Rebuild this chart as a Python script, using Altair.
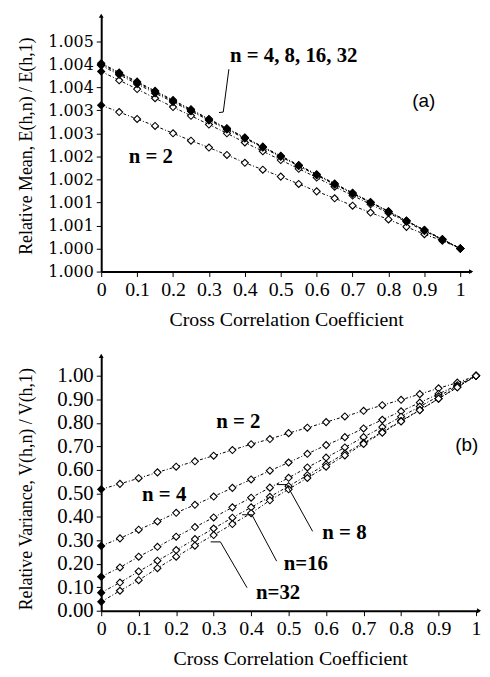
import altair as alt
import pandas as pd

# ---------------- data ----------------
rho = [0.0, 0.05, 0.1, 0.15, 0.2, 0.25, 0.3, 0.35, 0.4, 0.45, 0.5,
       0.55, 0.6, 0.65, 0.7, 0.75, 0.8, 0.85, 0.9, 0.95, 1.0]

# (a) relative mean E(h,n)/E(h,1)
mean_n2 = [1.00361, 1.00346, 1.00331, 1.00316, 1.00300, 1.00284, 1.00269, 1.00253, 1.00236, 1.00221, 1.00206,
           1.00190, 1.00174, 1.00159, 1.00143, 1.00128, 1.00113, 1.00097, 1.00081, 1.00067, 1.00050]
mean_n4 = [1.00434, 1.00415, 1.00396, 1.00376, 1.00357, 1.00338, 1.00319, 1.00300, 1.00280, 1.00261, 1.00242,
           1.00223, 1.00204, 1.00184, 1.00165, 1.00146, 1.00127, 1.00108, 1.00088, 1.00069, 1.00050]
mean_n8 = [1.00447, 1.00427, 1.00407, 1.00387, 1.00368, 1.00348, 1.00328, 1.00308, 1.00289, 1.00269, 1.00249,
           1.00229, 1.00209, 1.00189, 1.00169, 1.00150, 1.00130, 1.00110, 1.00090, 1.00070, 1.00050]
mean_n16 = [1.00450, 1.00430, 1.00410, 1.00390, 1.00370, 1.00350, 1.00330, 1.00310, 1.00290, 1.00270, 1.00250,
            1.00230, 1.00210, 1.00190, 1.00170, 1.00150, 1.00130, 1.00110, 1.00090, 1.00070, 1.00050]
mean_n32 = [1.00452, 1.00432, 1.00412, 1.00392, 1.00372, 1.00352, 1.00331, 1.00311, 1.00291, 1.00271, 1.00251,
            1.00231, 1.00211, 1.00191, 1.00171, 1.00151, 1.00131, 1.00110, 1.00090, 1.00070, 1.00050]

# (b) relative variance V(h,n)/V(h,1)
var_n2 = [0.517, 0.540, 0.564, 0.589, 0.613, 0.636, 0.660, 0.684, 0.709, 0.731, 0.756,
          0.779, 0.803, 0.827, 0.851, 0.875, 0.898, 0.922, 0.947, 0.971, 1.000]
var_n4 = [0.276, 0.308, 0.345, 0.380, 0.417, 0.451, 0.486, 0.523, 0.559, 0.596, 0.631,
          0.668, 0.705, 0.739, 0.776, 0.813, 0.849, 0.886, 0.923, 0.960, 1.000]
var_n8 = [0.145, 0.184, 0.230, 0.272, 0.315, 0.356, 0.397, 0.440, 0.481, 0.524, 0.566,
          0.610, 0.652, 0.695, 0.739, 0.782, 0.826, 0.869, 0.913, 0.956, 1.000]
var_n16 = [0.077, 0.120, 0.167, 0.213, 0.258, 0.305, 0.350, 0.396, 0.440, 0.485, 0.530,
           0.577, 0.623, 0.669, 0.715, 0.762, 0.808, 0.855, 0.902, 0.951, 1.000]
var_n32 = [0.038, 0.085, 0.130, 0.181, 0.230, 0.277, 0.322, 0.369, 0.415, 0.470, 0.517,
           0.565, 0.613, 0.661, 0.710, 0.758, 0.806, 0.854, 0.903, 0.951, 1.000]

series_names = ["n=2", "n=4", "n=8", "n=16", "n=32"]

x_ticks = [0.0, 0.1, 0.2, 0.3, 0.4, 0.5, 0.6, 0.7, 0.8, 0.9, 1.0]
mean_ticks = [1.0, 1.0005, 1.001, 1.0015, 1.002, 1.0025, 1.003, 1.0035, 1.004, 1.0045, 1.005]
mean_tick_labels = ["1.000", "1.000", "1.001", "1.001", "1.002", "1.002",
                    "1.003", "1.003", "1.004", "1.004", "1.005"]
var_ticks = [0.0, 0.1, 0.2, 0.3, 0.4, 0.5, 0.6, 0.7, 0.8, 0.9, 1.0]

# annotation texts (position in data units)
ann_a_text = ["n = 4, 8, 16, 32", "n = 2"]
ann_a_x = [0.536, 0.138]
ann_a_y = [1.00468, 1.00248]
ann_b_text = ["n = 2", "n = 4", "n = 8", "n=16", "n=32"]
ann_b_x = [0.366, 0.168, 0.649, 0.546, 0.472]
ann_b_y = [0.803, 0.494, 0.330, 0.199, 0.076]

# leader lines: x, y, x2, y2
lead_a = [[0.3555, 1.00439, 0.3398, 1.00346], [0.3398, 1.00346, 0.328, 1.00345]]
lead_b = [[0.469, 0.537, 0.495, 0.537], [0.495, 0.537, 0.564, 0.338],
          [0.376, 0.4085, 0.402, 0.4085], [0.402, 0.4085, 0.468, 0.211],
          [0.292, 0.293, 0.318, 0.293], [0.318, 0.293, 0.389, 0.098]]

# ---------------- build tables ----------------
def long_table(lists):
    rows = []
    for name, vals in zip(series_names, lists):
        for r, v in zip(rho, vals):
            rows.append({"rho": r, "v": v, "n": name})
    return pd.DataFrame(rows)

mean_df = long_table([mean_n2, mean_n4, mean_n8, mean_n16, mean_n32])
var_df = long_table([var_n2, var_n4, var_n8, var_n16, var_n32])

SERIF = "Liberation Serif"
SANS = "Liberation Sans"


def panel(df, xdom, ydom, w, h, yaxis, ytitle, texts, tx, ty, leads, tag, tag_x, tag_y, fill_test):
    xs = alt.Scale(domain=xdom, nice=False, zero=False)
    ys = alt.Scale(domain=ydom, nice=False, zero=False)
    xaxis = alt.Axis(values=x_ticks, format=".1~f", title="Cross Correlation Coefficient",
                     grid=False, domainColor="black", domainWidth=2, tickColor="black",
                     tickSize=5, tickWidth=1, labelFont=SERIF, labelFontSize=20,
                     labelColor="black", labelPadding=3, labelFlush=False, labelOverlap=False,
                     titleFont=SERIF, titleFontSize=20, titleFontWeight="normal",
                     titleColor="black", titlePadding=10)

    def X(field):
        return alt.X(field, scale=xs, axis=xaxis, title="Cross Correlation Coefficient")

    def Y(field):
        return alt.Y(field, scale=ys, axis=yaxis, title=ytitle)

    base = alt.Chart(df)
    lines = base.mark_line(color="black", strokeWidth=1, strokeDash=[3, 2, 1, 2]).encode(
        x=X("rho:Q"), y=Y("v:Q"), detail="n:N",
    )
    pts = base.mark_point(shape="diamond", size=50, stroke="black", strokeWidth=1.1,
                          filled=False, opacity=1).encode(
        x=X("rho:Q"), y=Y("v:Q"),
        fill=alt.condition(fill_test, alt.value("black"), alt.value("white")),
        detail="n:N",
    )
    tdf = pd.DataFrame({"t": texts, "x": tx, "y": ty})
    txt = alt.Chart(tdf).mark_text(font=SERIF, fontSize=21, fontWeight="bold",
                                   color="black", baseline="middle", align="center").encode(
        x=X("x:Q"), y=Y("y:Q"), text="t:N")
    ldf = pd.DataFrame(leads, columns=["x", "y", "x2", "y2"])
    rules = alt.Chart(ldf).mark_rule(color="black", strokeWidth=1).encode(
        x=X("x:Q"), y=Y("y:Q"), x2="x2:Q", y2="y2:Q")
    tagdf = pd.DataFrame({"t": [tag], "x": [tag_x], "y": [tag_y]})
    tagm = alt.Chart(tagdf).mark_text(font=SANS, fontSize=19, color="black",
                                      baseline="middle", align="center").encode(
        x=X("x:Q"), y=Y("y:Q"), text="t:N")
    adf = pd.DataFrame({"x": [xdom[0], xdom[1]], "y": [ydom[1], ydom[0]],
                        "s": ["triangle-up", "triangle-right"]})
    arrows = alt.Chart(adf).mark_point(filled=True, color="black", size=24, opacity=1).encode(
        x=X("x:Q"), y=Y("y:Q"), shape=alt.Shape("s:N", scale=None))
    return alt.layer(lines, pts, rules, txt, tagm, arrows).properties(width=w, height=h)


label_expr_a = "[" + ",".join("'" + s + "'" for s in mean_tick_labels) + "][round((datum.value-1)/0.0005)]"
yaxis_a = alt.Axis(values=mean_ticks, labelExpr=label_expr_a, grid=False,
                   domainColor="black", domainWidth=2, tickColor="black", tickSize=5,
                   tickWidth=1, labelFont="DejaVu Serif", labelFontSize=16, labelColor="black",
                   labelPadding=3, labelFlush=False, labelOverlap=False,
                   titleFont=SERIF, titleFontSize=18, titleFontWeight="normal",
                   titleColor="black", titleX=-66, titleY=131)
yaxis_b = alt.Axis(values=var_ticks, format=".2f", grid=False,
                   domainColor="black", domainWidth=2, tickColor="black", tickSize=5,
                   tickWidth=1, labelFont=SERIF, labelFontSize=21, labelColor="black",
                   labelPadding=3, labelFlush=False, labelOverlap=False,
                   titleFont=SERIF, titleFontSize=18, titleFontWeight="normal",
                   titleColor="black", titleX=-66, titleY=134)

top = panel(mean_df, [0, 1.03], [1.0, 1.00555], 373, 258, yaxis_a,
            "Relative Mean, E(h,n) / E(h,1)", ann_a_text, ann_a_x, ann_a_y, lead_a,
            "(a)", 0.898, 1.00371,
            "datum.rho == 0 || datum.n == 'n=8' || datum.n == 'n=16' || datum.n == 'n=32'")
bottom = panel(var_df, [0, 1.008], [0, 1.085], 381, 257, yaxis_b,
               "Relative Variance,  V(h,n) / V(h,1)", ann_b_text, ann_b_x, ann_b_y, lead_b,
               "(b)", 0.975, 0.706, "datum.rho == 0")

chart = alt.vconcat(top, bottom, spacing=24).properties(
    padding={"left": 9, "top": 2, "right": 0, "bottom": 0}
).configure_view(stroke=None).configure_axis(labelOverlap=False, labelBound=False)

chart.save("out.html", embed_options={"renderer": "svg", "actions": False})
